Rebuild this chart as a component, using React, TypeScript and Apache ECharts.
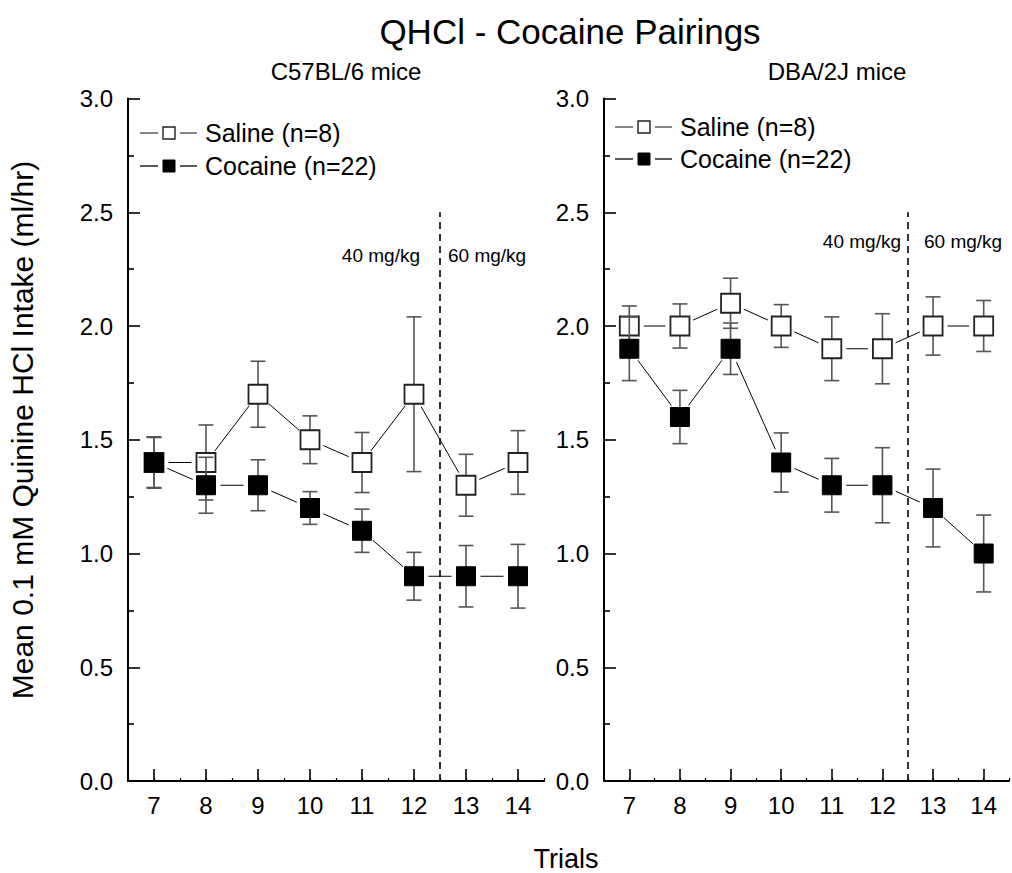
import React, { useEffect, useRef } from "react";
import * as echarts from "echarts";

// ---- data ----
const TRIALS = [7, 8, 9, 10, 11, 12, 13, 14];
const TRIAL_LABELS = ["7", "8", "9", "10", "11", "12", "13", "14"];
const SERIES_NAMES = ["Saline (n=8)", "Cocaine (n=22)"];
const PANEL_TITLES = ["C57BL/6 mice", "DBA/2J mice"];

// C57BL/6 mice
const B6_SALINE_MEAN = [1.4, 1.4, 1.7, 1.5, 1.4, 1.7, 1.3, 1.4];
const B6_SALINE_SEM = [0.11, 0.165, 0.145, 0.105, 0.132, 0.34, 0.136, 0.14];
const B6_COCAINE_MEAN = [1.4, 1.3, 1.3, 1.2, 1.1, 0.9, 0.9, 0.9];
const B6_COCAINE_SEM = [0.113, 0.123, 0.112, 0.072, 0.095, 0.105, 0.135, 0.14];

// DBA/2J mice
const D2_SALINE_MEAN = [2.0, 2.0, 2.1, 2.0, 1.9, 1.9, 2.0, 2.0];
const D2_SALINE_SEM = [0.088, 0.097, 0.11, 0.094, 0.14, 0.154, 0.128, 0.112];
const D2_COCAINE_MEAN = [1.9, 1.6, 1.9, 1.4, 1.3, 1.3, 1.2, 1.0];
const D2_COCAINE_SEM = [0.14, 0.117, 0.113, 0.13, 0.118, 0.165, 0.171, 0.169];

// dose change between trials 12 and 13
const DOSE_SWITCH_TRIAL = 12.5;
const DOSE_LINE_TOP = 2.5;
const DOSE_LABELS = ["40 mg/kg", "60 mg/kg"];

const FONT = "'Liberation Sans', Arial, Helvetica, sans-serif";
const ERR_COLOR = "#555";
const MARKER_SIZE = 19;

function errorBars(gi: number, means: number[], sems: number[], z: number) {
  return {
    type: "custom",
    xAxisIndex: gi * 2,
    yAxisIndex: gi,
    z,
    silent: true,
    encode: { x: 0, y: [1, 2] },
    data: TRIALS.map((t, i) => [t, means[i] - sems[i], means[i] + sems[i]]),
    renderItem: (_p: any, api: any) => {
      const x = api.value(0);
      const lo = api.coord([x, api.value(1)]);
      const hi = api.coord([x, api.value(2)]);
      const hw = 7.5;
      const style = { stroke: ERR_COLOR, lineWidth: 1.6 };
      return {
        type: "group",
        children: [
          { type: "line", shape: { x1: lo[0], y1: lo[1], x2: hi[0], y2: hi[1] }, style },
          { type: "line", shape: { x1: hi[0] - hw, y1: hi[1], x2: hi[0] + hw, y2: hi[1] }, style },
          { type: "line", shape: { x1: lo[0] - hw, y1: lo[1], x2: lo[0] + hw, y2: lo[1] }, style },
        ],
      };
    },
  };
}

// connecting segments, stopped short of each marker
function segments(gi: number, means: number[], z: number) {
  const data: number[][] = [];
  for (let i = 0; i < TRIALS.length - 1; i++) {
    data.push([TRIALS[i], means[i], TRIALS[i + 1], means[i + 1]]);
  }
  return {
    type: "custom",
    xAxisIndex: gi * 2,
    yAxisIndex: gi,
    z,
    silent: true,
    encode: { x: [0, 2], y: [1, 3] },
    data,
    renderItem: (_p: any, api: any) => {
      const a = api.coord([api.value(0), api.value(1)]);
      const b = api.coord([api.value(2), api.value(3)]);
      const dx = b[0] - a[0];
      const dy = b[1] - a[1];
      const len = Math.hypot(dx, dy);
      const gap = 14.5;
      if (len <= gap * 2) return null;
      const ux = dx / len;
      const uy = dy / len;
      return {
        type: "line",
        shape: { x1: a[0] + ux * gap, y1: a[1] + uy * gap, x2: b[0] - ux * gap, y2: b[1] - uy * gap },
        style: { stroke: "#000", lineWidth: 1 },
      };
    },
  };
}

function markers(gi: number, name: string, means: number[], filled: boolean, z: number, withDoseLine: boolean) {
  const s: any = {
    type: "scatter",
    name,
    xAxisIndex: gi * 2,
    yAxisIndex: gi,
    z,
    silent: true,
    symbol: "rect",
    symbolSize: MARKER_SIZE,
    itemStyle: filled
      ? { color: "#000", borderColor: "#000", borderWidth: 1, opacity: 1 }
      : { color: "#fff", borderColor: "#222", borderWidth: 1.8, opacity: 1 },
    data: TRIALS.map((t, i) => [t, means[i]]),
  };
  if (withDoseLine) {
    s.markLine = {
      silent: true,
      symbol: "none",
      label: { show: false },
      lineStyle: { color: "#000", width: 1.6, type: [7, 5], opacity: 1 },
      data: [[{ coord: [DOSE_SWITCH_TRIAL, 0] }, { coord: [DOSE_SWITCH_TRIAL, DOSE_LINE_TOP] }]],
    };
  }
  return s;
}

function xAxesFor(gi: number) {
  return [
    {
      type: "value",
      gridIndex: gi,
      position: "bottom",
      min: 6.5,
      max: 14.5,
      interval: 0.5,
      axisLine: { show: true, lineStyle: { color: "#000", width: 2 } },
      axisTick: { show: true, inside: true, length: 3, lineStyle: { color: "#000", width: 1.2 } },
      axisLabel: {
        fontSize: 24,
        fontFamily: FONT,
        color: "#000",
        margin: 12,
        formatter: (v: number) => (Number.isInteger(v) ? String(v) : ""),
      },
      splitLine: { show: false },
    },
    {
      type: "category",
      gridIndex: gi,
      position: "bottom",
      data: TRIAL_LABELS,
      boundaryGap: true,
      axisLine: { show: false },
      axisTick: { show: true, inside: true, length: 12, alignWithLabel: true, lineStyle: { color: "#000", width: 1.6 } },
      axisLabel: { show: false },
      splitLine: { show: false },
    },
  ];
}

function yAxisFor(gi: number) {
  return {
    type: "value",
    gridIndex: gi,
    min: 0,
    max: 3,
    interval: 0.5,
    axisLine: { show: true, lineStyle: { color: "#000", width: 2 } },
    axisTick: { show: true, inside: true, length: 12, lineStyle: { color: "#000", width: 1.6 } },
    minorTick: { show: true, splitNumber: 2, length: 6, lineStyle: { color: "#000", width: 1.6 } },
    axisLabel: {
      fontSize: 24,
      fontFamily: FONT,
      color: "#000",
      margin: 15,
      formatter: (v: number) => v.toFixed(1),
    },
    splitLine: { show: false },
    minorSplitLine: { show: false },
  };
}

function legendGroup(x0: number, rows: number[]) {
  const els: any[] = [];
  rows.forEach((y, i) => {
    const stroke = i === 0 ? "#444" : "#000";
    els.push(
      { type: "line", shape: { x1: x0, y1: y, x2: x0 + 18, y2: y }, style: { stroke, lineWidth: 1.3 } },
      {
        type: "rect",
        shape: { x: x0 + 23, y: y - 6, width: 12, height: 12 },
        style: i === 0 ? { fill: "#fff", stroke: "#222", lineWidth: 1.4 } : { fill: "#000", stroke: "#000", lineWidth: 1 },
      },
      { type: "line", shape: { x1: x0 + 40, y1: y, x2: x0 + 57, y2: y }, style: { stroke, lineWidth: 1.3 } },
      {
        type: "text",
        x: x0 + 65,
        y,
        style: { text: SERIES_NAMES[i], font: `25px ${FONT}`, fill: "#000", textAlign: "left", textVerticalAlign: "middle" },
      }
    );
  });
  return els;
}

function text(x: number, y: number, s: string, size: number, align = "center", rotation = 0) {
  return {
    type: "text",
    x,
    y,
    rotation,
    style: { text: s, font: `${size}px ${FONT}`, fill: "#000", textAlign: align, textVerticalAlign: "middle" },
  };
}

export default function App() {
  const ref = useRef<HTMLDivElement>(null);

  useEffect(() => {
    if (!ref.current) return;
    const chart = echarts.init(ref.current, undefined, { renderer: "svg" });

    const option: any = {
      animation: false,
      backgroundColor: "#fff",
      textStyle: { fontFamily: FONT },
      grid: [
        { left: 128, top: 98.5, width: 416, height: 682.5, containLabel: false },
        { left: 604, top: 98.5, width: 416, height: 682.5, containLabel: false },
      ],
      xAxis: [...xAxesFor(0), ...xAxesFor(1)],
      yAxis: [yAxisFor(0), yAxisFor(1)],
      series: [
        errorBars(0, B6_SALINE_MEAN, B6_SALINE_SEM, 2),
        segments(0, B6_SALINE_MEAN, 2),
        markers(0, SERIES_NAMES[0], B6_SALINE_MEAN, false, 3, true),
        errorBars(0, B6_COCAINE_MEAN, B6_COCAINE_SEM, 4),
        segments(0, B6_COCAINE_MEAN, 4),
        markers(0, SERIES_NAMES[1], B6_COCAINE_MEAN, true, 5, false),

        errorBars(1, D2_SALINE_MEAN, D2_SALINE_SEM, 2),
        segments(1, D2_SALINE_MEAN, 2),
        markers(1, SERIES_NAMES[0], D2_SALINE_MEAN, false, 3, true),
        errorBars(1, D2_COCAINE_MEAN, D2_COCAINE_SEM, 4),
        segments(1, D2_COCAINE_MEAN, 4),
        markers(1, SERIES_NAMES[1], D2_COCAINE_MEAN, true, 5, false),
      ],
      graphic: [
        text(570, 31, "QHCl - Cocaine Pairings", 35),
        text(346, 71, PANEL_TITLES[0], 24),
        text(837, 71, PANEL_TITLES[1], 24),
        text(22, 430, "Mean 0.1 mM Quinine HCl Intake (ml/hr)", 30, "center", Math.PI / 2),
        text(566, 859, "Trials", 27),
        text(420, 255, DOSE_LABELS[0], 19, "right"),
        text(448, 255, DOSE_LABELS[1], 19, "left"),
        text(901, 241.5, DOSE_LABELS[0], 19, "right"),
        text(924, 241.5, DOSE_LABELS[1], 19, "left"),
        ...legendGroup(140, [133, 166]),
        ...legendGroup(615, [127, 159]),
      ],
    };

    chart.setOption(option);
    return () => chart.dispose();
  }, []);

  return (
    <div
      ref={ref}
      style={{ position: "fixed", left: 0, top: 0, width: 1012, height: 873, overflow: "hidden", background: "#fff" }}
    />
  );
}
